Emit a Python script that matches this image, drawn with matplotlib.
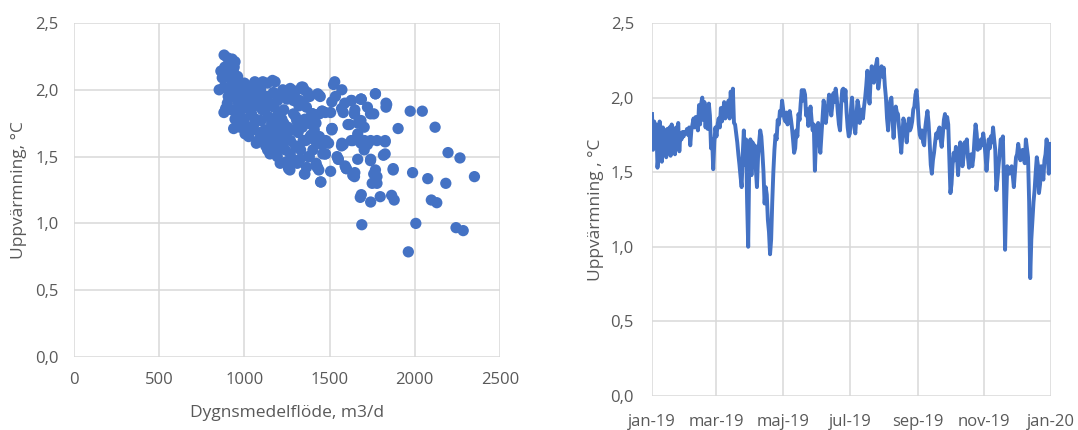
import numpy as np
import matplotlib
matplotlib.use("Agg")
import matplotlib.pyplot as plt

plt.rcParams['font.family'] = ['Open Sans', 'DejaVu Sans']

BLUE = '#4472C4'
GRID = '#D9D9D9'
TXT = '#595959'

# daily temperature rise (°C), 2019, one list per month
jan = [1.89, 1.65, 1.84, 1.70, 1.82, 1.53, 1.62, 1.84, 1.78, 1.57, 1.80, 1.62, 1.78, 1.60, 1.79, 1.64,
       1.80, 1.61, 1.82, 1.66, 1.78, 1.62, 1.80, 1.70, 1.83, 1.64, 1.76, 1.72, 1.77, 1.74, 1.77]
feb = [1.76, 1.79, 1.75, 1.80, 1.68, 1.78, 1.82, 1.86, 1.80, 1.87, 1.84, 1.78, 1.95, 1.82, 1.96, 2.00,
       1.85, 1.97, 1.80, 1.94, 1.79, 1.96, 1.88, 1.66, 1.72, 1.52, 1.70, 1.80]
mar = [1.74, 1.82, 1.86, 1.80, 1.93, 1.84, 1.90, 1.97, 1.86, 1.95, 1.88, 1.98, 1.86, 2.04, 1.90, 2.06,
       1.83, 1.82, 1.76, 1.70, 1.62, 1.55, 1.47, 1.40, 1.62, 1.78, 1.55, 1.72, 1.30, 1.00, 1.58]
apr = [1.72, 1.48, 1.70, 1.62, 1.68, 1.52, 1.40, 1.60, 1.70, 1.78, 1.74, 1.63, 1.50, 1.29, 1.40, 1.35,
       1.18, 1.10, 0.95, 1.05, 1.30, 1.50, 1.65, 1.75, 1.72, 1.85, 1.82, 1.91, 1.88, 1.98]
maj = [1.92, 1.86, 1.84, 1.90, 1.82, 1.88, 1.91, 1.86, 1.80, 1.72, 1.63, 1.66, 1.78, 1.74, 1.89, 1.85,
       1.96, 2.05, 1.98, 2.05, 2.02, 1.88, 1.92, 1.81, 1.86, 1.94, 1.85, 1.78, 1.82, 1.51, 1.70]
jun = [1.80, 1.83, 1.70, 1.63, 1.75, 1.88, 1.98, 1.92, 1.83, 1.90, 1.95, 2.02, 1.96, 1.88, 1.95, 2.03,
       1.97, 2.06, 2.00, 1.90, 1.82, 1.78, 1.95, 2.05, 2.06, 1.98, 2.05, 1.90, 1.80, 1.74]
jul = [1.76, 1.92, 2.00, 1.88, 1.80, 1.76, 1.88, 1.98, 1.94, 1.83, 1.88, 1.92, 1.86, 1.94, 2.00, 2.08,
       2.18, 2.05, 1.96, 2.12, 2.21, 2.15, 2.10, 2.20, 2.22, 2.26, 2.06, 2.12, 2.18, 2.21, 2.14]
aug = [2.20, 2.08, 2.00, 1.86, 1.78, 1.92, 1.98, 2.00, 1.85, 1.73, 1.85, 1.94, 1.90, 1.89, 1.80, 1.72,
       1.63, 1.75, 1.86, 1.82, 1.77, 1.70, 1.80, 1.86, 1.78, 1.80, 1.84, 1.92, 1.94, 2.02, 2.05]
sep = [1.96, 1.82, 1.75, 1.73, 1.78, 1.70, 1.68, 1.80, 1.86, 1.91, 1.83, 1.70, 1.55, 1.49, 1.58, 1.63,
       1.70, 1.76, 1.73, 1.78, 1.80, 1.72, 1.67, 1.75, 1.85, 1.89, 1.80, 1.87, 1.82, 1.60]
okt = [1.36, 1.42, 1.55, 1.63, 1.58, 1.67, 1.60, 1.48, 1.62, 1.70, 1.64, 1.54, 1.60, 1.70, 1.66, 1.72,
       1.60, 1.53, 1.58, 1.62, 1.54, 1.60, 1.72, 1.82, 1.76, 1.65, 1.70, 1.66, 1.72, 1.68, 1.76]
nov = [1.70, 1.62, 1.51, 1.60, 1.72, 1.66, 1.74, 1.70, 1.80, 1.72, 1.65, 1.38, 1.45, 1.54, 1.62, 1.72,
       1.70, 1.74, 1.40, 0.98, 1.30, 1.54, 1.50, 1.49, 1.52, 1.54, 1.48, 1.40, 1.50, 1.60]
dec = [1.62, 1.69, 1.64, 1.58, 1.62, 1.65, 1.60, 1.56, 1.72, 1.66, 1.60, 1.30, 0.79, 1.05, 1.18, 1.30,
       1.38, 1.50, 1.60, 1.55, 1.36, 1.42, 1.54, 1.50, 1.45, 1.58, 1.62, 1.72, 1.60, 1.49, 1.69]

flow_a = [881, 900, 928, 915, 945, 862, 885, 905, 940, 870, 920, 950, 852, 880, 910, 935, 960, 975,
          890, 880, 900, 930, 937, 1004, 960, 985, 1000, 1023, 1040, 1061, 1085, 1108, 1135, 1165, 1180,
          1070, 1100, 1136, 1042, 1066, 1098, 1120, 1174, 1200, 1231, 966, 990, 1020, 1051, 1080, 1110,
          1136, 1160, 1193, 1136, 1155, 1175, 1193, 1212, 1231, 1250, 1269, 1212, 1250, 1269, 1300, 1335,
          1350, 1288, 1320, 1364, 1307, 1345, 1383, 1288, 1193, 1231, 1345, 1326, 1259, 1355, 1383, 1421,
          1402, 1430, 1445, 1449, 1437, 1460, 1478, 1506, 1494, 1513, 1475, 1440, 1410, 1440, 1506, 1523]
rise_a = [2.26, 2.24, 2.23, 2.20, 2.21, 2.14, 2.17, 2.13, 2.12, 2.09, 2.08, 2.07, 2.00, 2.02, 2.00, 2.03,
          2.05, 2.04, 1.86, 1.83, 1.90, 1.95, 1.71, 1.67, 1.80, 1.97, 2.00, 1.90, 2.03, 2.06, 2.04, 2.06,
          2.05, 2.07, 2.06, 1.97, 1.92, 1.95, 1.82, 1.78, 1.77, 1.85, 1.87, 1.82, 1.85, 1.80, 1.75, 1.72,
          1.70, 1.62, 1.65, 1.70, 1.68, 1.67, 1.55, 1.62, 1.58, 1.50, 1.57, 1.62, 1.67, 1.52, 1.97, 1.93,
          2.01, 1.99, 2.02, 2.00, 1.92, 1.88, 1.87, 1.77, 1.77, 1.75, 1.82, 1.80, 1.75, 1.62, 1.48, 1.41,
          1.37, 1.95, 1.45, 1.55, 1.97, 1.95, 1.31, 1.40, 1.52, 1.62, 1.39, 1.60, 1.71, 1.83, 1.82, 1.70,
          1.65, 1.83, 2.04]
flow_b = [1530, 1572, 1534, 1515, 1551, 1544, 1570, 1572, 1580, 1598, 1591, 1627, 1646, 1617, 1629, 1648,
          1667, 1684, 1686, 1684, 1722, 1705, 1627, 1684, 1703, 1741, 1741, 1759, 1769, 1826, 1826, 1831,
          1831, 1646, 1648, 1769, 1778, 1750, 1873, 1902, 1973, 2044, 2119, 1987, 2076, 2182, 2350, 2195,
          2265, 1680, 1686, 1741, 1797, 1864, 1879, 2097, 2129, 1689, 2006, 2242, 2284, 1962]
rise_b = [2.06, 2.00, 1.95, 1.71, 1.48, 1.50, 1.58, 1.60, 1.83, 1.41, 1.43, 1.92, 1.82, 1.74, 1.92, 1.85,
          1.75, 1.93, 1.93, 1.77, 1.87, 1.62, 1.62, 1.60, 1.55, 1.62, 1.48, 1.82, 1.97, 1.61, 1.52, 1.90,
          1.87, 1.35, 1.38, 1.40, 1.35, 1.30, 1.41, 1.71, 1.84, 1.84, 1.72, 1.38, 1.335, 1.30, 1.35, 1.53,
          1.49, 1.195, 1.215, 1.16, 1.20, 1.21, 1.175, 1.175, 1.155, 0.99, 1.00, 0.968, 0.946, 0.787]
# dense core of the cloud
flow_c = [1010, 1030, 1050, 1060, 1075, 1090, 1095, 1000, 1025, 1070, 1045, 950, 965, 925, 945, 980,
          905, 960, 975, 990, 920, 940, 1000, 1110, 1125, 1140, 1150, 1160, 1170, 1185, 1195, 1120,
          1150, 1180, 1200, 1105, 1210, 1220, 1240, 1255, 1270, 1285, 1300, 1225, 1245, 1280, 1300, 1290,
          1210, 1230, 1315, 1330, 1340, 1360, 1375, 1390, 1395, 1325, 1370, 1310, 1365, 1355, 1415, 1428,
          1456, 1475, 1456, 1400, 1381, 1420]
rise_c = [1.95, 1.85, 1.93, 1.75, 1.88, 1.68, 2.00, 1.78, 1.65, 1.60, 1.98, 1.98, 1.90, 1.85, 1.78, 1.85,
          1.95, 2.10, 1.72, 1.92, 2.15, 2.17, 2.05, 1.95, 1.58, 1.80, 1.90, 1.75, 1.98, 1.62, 1.92, 1.70,
          1.52, 1.54, 1.72, 1.85, 1.68, 1.78, 1.55, 1.72, 1.62, 1.70, 1.58, 2.00, 1.46, 1.48, 1.80, 1.96,
          1.45, 1.98, 1.68, 1.55, 1.72, 1.62, 1.50, 1.66, 1.82, 1.92, 1.98, 1.45, 1.42, 1.78, 1.62, 1.42,
          1.59, 1.52, 1.84, 1.82, 1.75, 1.75]
# middle part of the cloud, 1250-1900 m3/d
flow_d = [1437, 1513, 1589, 1684, 1769, 1835, 1740, 1646, 1703, 1513, 1580, 1636, 1722, 1778, 1826, 1816,
          1740, 1665, 1551, 1598, 1636, 1759, 1778, 1873, 1428, 1447, 1352, 1267, 1381, 1456, 1475, 1305,
          1381, 1324, 1400, 1343, 1286, 1343, 1456, 1570, 1608, 1665, 1381]
rise_d = [1.96, 1.91, 1.90, 1.93, 1.97, 1.89, 1.82, 1.82, 1.72, 1.70, 1.59, 1.62, 1.59, 1.62, 1.62, 1.51,
          1.47, 1.48, 1.48, 1.41, 1.36, 1.37, 1.30, 1.40, 1.42, 1.31, 1.37, 1.40, 1.50, 1.59, 1.52, 1.57,
          1.64, 1.77, 1.82, 1.91, 1.99, 2.02, 1.84, 1.86, 1.74, 1.67, 1.75]

x_ticks = [0, 500, 1000, 1500, 2000, 2500]
y_ticks = [0.0, 0.5, 1.0, 1.5, 2.0, 2.5]
y_labels = ['0,0', '0,5', '1,0', '1,5', '2,0', '2,5']
date_ticks = ['2019-01-01', '2019-03-01', '2019-05-01', '2019-07-01', '2019-09-01', '2019-11-01', '2020-01-01']
date_labels = ['jan-19', 'mar-19', 'maj-19', 'jul-19', 'sep-19', 'nov-19', 'jan-20']

daily = jan + feb + mar + apr + maj + jun + jul + aug + sep + okt + nov + dec
days = np.arange(np.datetime64('2019-01-01'), np.datetime64('2019-01-01') + len(daily))
flow = flow_a + flow_b + flow_c + flow_d
rise = rise_a + rise_b + rise_c + rise_d


def style(ax):
    for s in ax.spines.values():
        s.set_visible(False)
    ax.grid(True, color=GRID, lw=1.1)
    ax.set_axisbelow(True)
    ax.tick_params(length=0, labelsize=12, labelcolor=TXT)
    ax.set_ylim(0, 2.5)
    ax.set_yticks(y_ticks)
    ax.set_yticklabels(y_labels)


fig = plt.figure(figsize=(10.78, 4.30), dpi=100)

ax1 = fig.add_axes([74 / 1078, 73 / 430, 426 / 1078, 334 / 430])
style(ax1)
ax1.scatter(flow, rise, s=66, color=BLUE, edgecolors='none', zorder=3, clip_on=False)
ax1.set_xlim(0, 2500)
ax1.set_xticks(x_ticks)
ax1.tick_params(axis='y', pad=11)
ax1.tick_params(axis='x', pad=11)
ax1.set_xlabel('Dygnsmedelflöde, m3/d', fontsize=12.5, color=TXT, labelpad=12)
ax1.set_ylabel('Uppvärmning, °C', fontsize=12.5, color=TXT, labelpad=6)

ax2 = fig.add_axes([652 / 1078, 34 / 430, 399 / 1078, 373 / 430])
style(ax2)
ax2.plot(days, daily, color=BLUE, lw=2.8, zorder=3)
ax2.set_xlim(np.datetime64('2019-01-01'), np.datetime64('2020-01-01'))
ax2.set_xticks([np.datetime64(d) for d in date_ticks])
ax2.set_xticklabels(date_labels)
ax2.tick_params(axis='y', pad=13)
ax2.tick_params(axis='x', pad=13)
ax2.set_ylabel('Uppvärmning , °C', fontsize=12.5, color=TXT, labelpad=5)

fig.savefig('out.png', dpi=100)
